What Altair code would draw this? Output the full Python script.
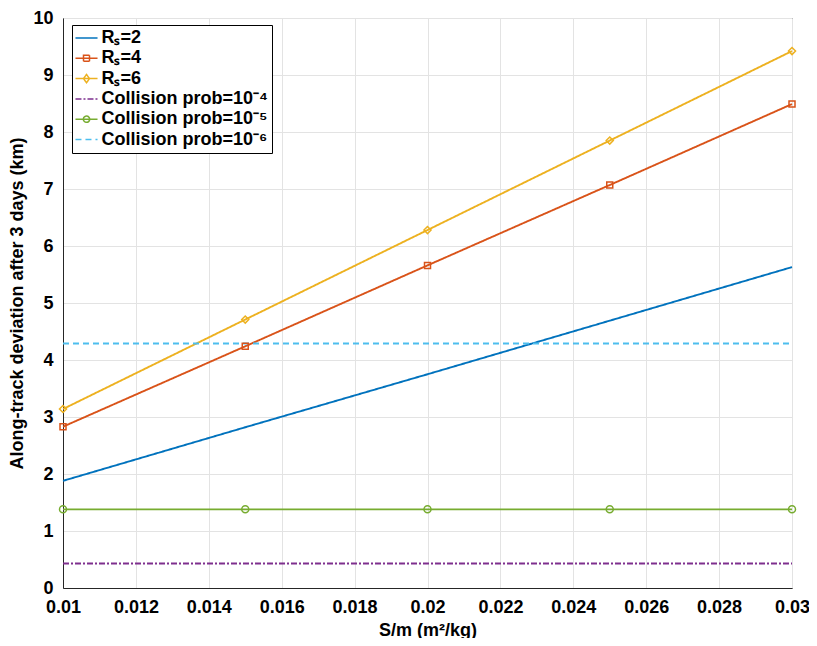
import altair as alt
import pandas as pd

# ---- data ----
sm = [0.01, 0.015, 0.02, 0.025, 0.03]
rs2 = [1.88, 2.82, 3.75, 4.69, 5.63]
rs4 = [2.83, 4.24, 5.66, 7.07, 8.49]
rs6 = [3.14, 4.71, 6.28, 7.85, 9.42]
prob4 = [0.43, 0.43, 0.43, 0.43, 0.43]
prob5 = [1.38, 1.38, 1.38, 1.38, 1.38]
prob6 = [4.29, 4.29, 4.29, 4.29, 4.29]

series_names = ["Rₛ=2", "Rₛ=4", "Rₛ=6",
                "Collision prob=10⁻⁴", "Collision prob=10⁻⁵", "Collision prob=10⁻⁶"]
series_values = [rs2, rs4, rs6, prob4, prob5, prob6]

x_ticks = [0.01, 0.012, 0.014, 0.016, 0.018, 0.02, 0.022, 0.024, 0.026, 0.028, 0.03]
y_ticks = [0, 1, 2, 3, 4, 5, 6, 7, 8, 9, 10]

# ---- styles ----
colors = ["#0072BD", "#D95319", "#EDB120", "#7E2F8E", "#77AC30", "#4DBEEE"]
dashes = [[1, 0], [1, 0], [1, 0], [6, 2, 2, 2], [1, 0], [6, 4]]
LINE = "M-1.47,0L1.47,0"
legend_shapes = [
    LINE,
    LINE + "M-0.4,-0.4L0.4,-0.4L0.4,0.4L-0.4,0.4Z",
    LINE + "M0,-0.55L0.4,0L0,0.55L-0.4,0Z",
    LINE,
    LINE + "M-0.42,0A0.42,0.42,0,1,1,0.42,0A0.42,0.42,0,1,1,-0.42,0Z",
    LINE,
]
markers = {"Rₛ=4": ("square", 36), "Rₛ=6": ("diamond", 50), "Collision prob=10⁻⁵": ("circle", 49)}

rows = []
for name, vals in zip(series_names, series_values):
    for xv, yv in zip(sm, vals):
        rows.append({"sm": xv, "val": yv, "series": name})
df = pd.DataFrame(rows)

FONT = "Liberation Sans"

x_enc = alt.X("sm:Q", scale=alt.Scale(domain=[0.01, 0.03], nice=False, zero=False),
              axis=alt.Axis(values=x_ticks, format="~g", title="S/m (m²/kg)",
                            labelFlush=False, labelPadding=10, titlePadding=5))
y_enc = alt.Y("val:Q", scale=alt.Scale(domain=[0, 10], nice=False),
              axis=alt.Axis(values=y_ticks, format="d",
                            title="Along-track deviation after 3 days (km)",
                            labelPadding=10, titlePadding=6))

color_enc = alt.Color("series:N", scale=alt.Scale(domain=series_names, range=colors),
                      legend=alt.Legend(title=None))
dash_enc = alt.StrokeDash("series:N", scale=alt.Scale(domain=series_names, range=dashes),
                          legend=alt.Legend(title=None))
shape_enc = alt.Shape("series:N", scale=alt.Scale(domain=series_names, range=legend_shapes),
                      legend=alt.Legend(title=None))

base = alt.Chart(df)

lines = base.mark_line(strokeWidth=1.9).encode(
    x=x_enc, y=y_enc, color=color_enc, strokeDash=dash_enc, detail="series:N"
)

layers = [lines]
for i, name in enumerate(series_names):
    if name in markers:
        shp, sz = markers[name]
        layers.append(
            base.transform_filter(alt.datum.series == name)
            .mark_point(shape=shp, size=sz, filled=False, strokeWidth=1.5,
                        color=colors[i], opacity=1)
            .encode(x=x_enc, y=y_enc)
        )

legend_layer = base.transform_filter("false").mark_point(filled=False, opacity=1).encode(
    x=x_enc, y=y_enc, color=color_enc, shape=shape_enc, strokeDash=dash_enc
)
layers.append(legend_layer)

chart = alt.layer(*layers).properties(
    width=729, height=570,
    autosize=alt.AutoSizeParams(type="none"),
    padding={"left": 55, "top": 10, "right": 17, "bottom": 50},
).configure_view(
    stroke="#262626", strokeWidth=1
).configure_axis(
    labelFont=FONT, labelFontSize=18, labelFontWeight="bold", labelColor="black",
    titleFont=FONT, titleFontSize=18, titleFontWeight="bold", titleColor="black",
    ticks=False, domainColor="#262626", domainWidth=1,
    gridColor="#e3e3e3", gridWidth=1,
).configure_legend(
    orient="none", legendX=9, legendY=7, padding=4,
    strokeColor="black", fillColor="white",
    symbolStrokeWidth=1.5, symbolSize=225, symbolOffset=1.5, symbolOpacity=1,
    labelOffset=6, rowPadding=2.3, labelLimit=400,
    labelFont=FONT, labelFontSize=18, labelFontWeight="bold", labelColor="black",
)

chart.save("out.html", embed_options={"renderer": "svg", "actions": False})
